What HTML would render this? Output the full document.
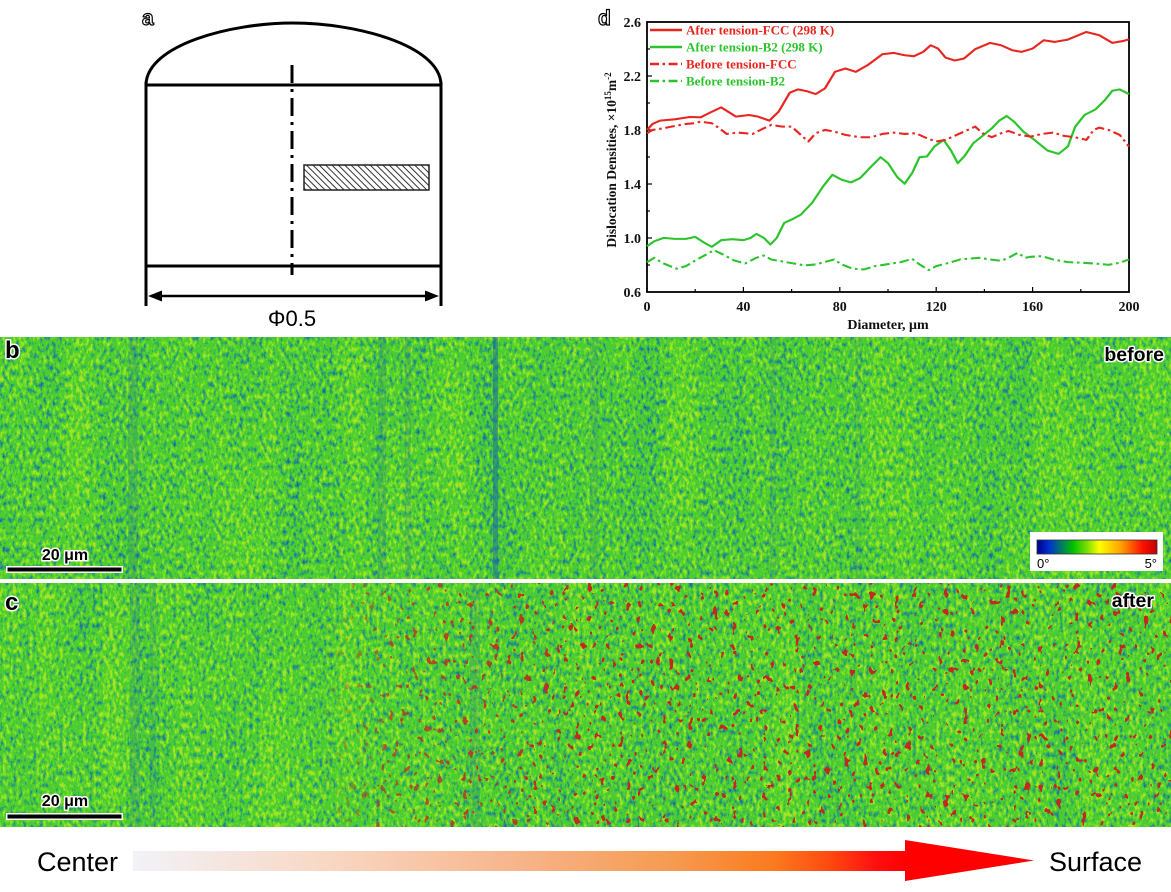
<!DOCTYPE html>
<html><head><meta charset="utf-8"><style>
html,body{margin:0;padding:0;background:#fff;}
svg{display:block;}
</style></head><body>
<svg width="1171" height="892" viewBox="0 0 1171 892" xmlns="http://www.w3.org/2000/svg">
<defs>
 <pattern id="hatch" width="4.5" height="4.5" patternUnits="userSpaceOnUse" patternTransform="rotate(-45)">
  <line x1="1" y1="0" x2="1" y2="4.5" stroke="#333" stroke-width="1"/>
 </pattern>
 <filter id="fb" x="0" y="0" width="1" height="1" filterUnits="objectBoundingBox" color-interpolation-filters="sRGB">
  <feTurbulence type="fractalNoise" baseFrequency="0.3 0.17" numOctaves="2" seed="7" result="t1"/>
  <feColorMatrix in="t1" type="matrix" values="1 0 0 0 0 1 0 0 0 0 1 0 0 0 0 0 0 0 0 1" result="g1"/>
  <feTurbulence type="fractalNoise" baseFrequency="0.03 0.003" numOctaves="2" seed="12" result="t2"/>
  <feColorMatrix in="t2" type="matrix" values="1 0 0 0 0 1 0 0 0 0 1 0 0 0 0 0 0 0 0 1" result="g2"/>
  <feComposite in="g1" in2="g2" operator="arithmetic" k1="0" k2="0.85" k3="0.2" k4="0.01" result="c"/>
  <feComponentTransfer in="c">
   <feFuncR type="discrete" tableValues="0.1 0.1 0.1 0.1 0.1 0.15 0.15 0.2 0.2 0.3 0.3 0.3 0.45 0.45 0.66 0.66 0.66 0.66 0.66 0.66"/>
   <feFuncG type="discrete" tableValues="0.38 0.38 0.38 0.38 0.38 0.52 0.52 0.66 0.66 0.8 0.8 0.8 0.87 0.87 0.89 0.89 0.89 0.89 0.89 0.89"/>
   <feFuncB type="discrete" tableValues="0.62 0.62 0.62 0.62 0.62 0.56 0.56 0.4 0.4 0.2 0.2 0.2 0.15 0.15 0.15 0.15 0.15 0.15 0.15 0.15"/>
   <feFuncA type="linear" slope="0" intercept="1"/>
  </feComponentTransfer>
 </filter>
 <filter id="fc" x="0" y="0" width="1" height="1" filterUnits="objectBoundingBox" color-interpolation-filters="sRGB">
  <feTurbulence type="fractalNoise" baseFrequency="0.3 0.17" numOctaves="2" seed="31" result="t1"/>
  <feColorMatrix in="t1" type="matrix" values="1 0 0 0 0 1 0 0 0 0 1 0 0 0 0 0 0 0 0 1" result="g1"/>
  <feTurbulence type="fractalNoise" baseFrequency="0.03 0.003" numOctaves="2" seed="44" result="t2"/>
  <feColorMatrix in="t2" type="matrix" values="1 0 0 0 0 1 0 0 0 0 1 0 0 0 0 0 0 0 0 1" result="g2"/>
  <feComposite in="g1" in2="g2" operator="arithmetic" k1="0" k2="0.85" k3="0.2" k4="0.02" result="c"/>
  <feComponentTransfer in="c">
   <feFuncR type="discrete" tableValues="0.1 0.1 0.1 0.1 0.1 0.15 0.15 0.2 0.2 0.3 0.3 0.3 0.45 0.45 0.66 0.66 0.66 0.66 0.66 0.66"/>
   <feFuncG type="discrete" tableValues="0.38 0.38 0.38 0.38 0.38 0.52 0.52 0.66 0.66 0.8 0.8 0.8 0.87 0.87 0.89 0.89 0.89 0.89 0.89 0.89"/>
   <feFuncB type="discrete" tableValues="0.62 0.62 0.62 0.62 0.62 0.56 0.56 0.4 0.4 0.2 0.2 0.2 0.15 0.15 0.15 0.15 0.15 0.15 0.15 0.15"/>
   <feFuncA type="linear" slope="0" intercept="1"/>
  </feComponentTransfer>
 </filter>
 <filter id="fr" x="0" y="0" width="1" height="1" filterUnits="objectBoundingBox" color-interpolation-filters="sRGB">
  <feTurbulence type="fractalNoise" baseFrequency="0.16 0.12" numOctaves="2" seed="21"/>
  <feColorMatrix type="matrix" values="0 0 0 0 0.76  0 0 0 0 0.16  0 0 0 0 0.12  1 0 0 0 0"/>
  <feComponentTransfer><feFuncA type="discrete" tableValues="0 0 0 0 0 0 0 0 0 0 0 0 0 0 0 0 0 1 1 1 1 1 1 1 1"/></feComponentTransfer>
 </filter>
 <linearGradient id="fadeg" gradientUnits="userSpaceOnUse" x1="0" y1="0" x2="1171" y2="0">
  <stop offset="0" stop-color="#fff" stop-opacity="0"/>
  <stop offset="0.27" stop-color="#fff" stop-opacity="0"/>
  <stop offset="0.33" stop-color="#fff" stop-opacity="0.7"/>
  <stop offset="0.5" stop-color="#fff" stop-opacity="1"/>
  <stop offset="1" stop-color="#fff" stop-opacity="1"/>
 </linearGradient>
 <mask id="fade" maskUnits="userSpaceOnUse" x="0" y="583" width="1171" height="244">
  <rect x="0" y="583" width="1171" height="244" fill="url(#fadeg)"/>
 </mask>
 <linearGradient id="cbar" x1="0" y1="0" x2="1" y2="0">
  <stop offset="0" stop-color="#00008c"/>
  <stop offset="0.1" stop-color="#0030d0"/>
  <stop offset="0.3" stop-color="#00c000"/>
  <stop offset="0.42" stop-color="#80e000"/>
  <stop offset="0.52" stop-color="#ffff00"/>
  <stop offset="0.7" stop-color="#ffa000"/>
  <stop offset="0.88" stop-color="#ff1000"/>
  <stop offset="1" stop-color="#c00000"/>
 </linearGradient>
 <linearGradient id="arr" x1="0" y1="0" x2="1" y2="0">
  <stop offset="0" stop-color="#f2f2f8"/>
  <stop offset="0.25" stop-color="#f8d8c4"/>
  <stop offset="0.5" stop-color="#f7b48a"/>
  <stop offset="0.7" stop-color="#f69a50"/>
  <stop offset="0.83" stop-color="#fb7a1e"/>
  <stop offset="0.9" stop-color="#ff4a10"/>
  <stop offset="0.96" stop-color="#ff1010"/>
  <stop offset="1" stop-color="#ff0000"/>
 </linearGradient>
</defs>

<rect width="1171" height="892" fill="#fff"/>

<!-- Panel a -->
<text x="142" y="25" font-family="Liberation Sans, sans-serif" font-size="21" font-weight="bold" fill="#fff" stroke="#000" stroke-width="1.2">a</text>
<g fill="none" stroke="#000" stroke-width="3">
 <path d="M146,84 C148,45 230,23 293,23 C356,23 439,45 441,84"/>
 <line x1="146" y1="85" x2="441" y2="85"/>
 <line x1="146" y1="266" x2="441" y2="266"/>
 <line x1="146" y1="82" x2="146" y2="306"/>
 <line x1="441" y1="82" x2="441" y2="306"/>
 <line x1="156" y1="296" x2="431" y2="296" stroke-width="2.5"/>
 <line x1="292" y1="65" x2="292" y2="275" stroke-dasharray="18,6,3,6"/>
</g>
<polygon points="148,296 162,290.5 162,301.5" fill="#000"/>
<polygon points="439,296 425,290.5 425,301.5" fill="#000"/>
<rect x="304" y="165" width="125" height="25" fill="url(#hatch)" stroke="#222" stroke-width="1.5"/>
<text x="292" y="326" text-anchor="middle" font-family="Liberation Sans, sans-serif" font-size="22" fill="#000">Φ0.5</text>

<!-- Panel d -->
<text x="598" y="25" font-family="Liberation Sans, sans-serif" font-size="21" font-weight="bold" fill="#fff" stroke="#000" stroke-width="1.2">d</text>
<g font-family="Liberation Serif, serif" font-weight="bold" font-size="14" fill="#111">
 <text x="641" y="27" text-anchor="end">2.6</text>
 <text x="641" y="81" text-anchor="end">2.2</text>
 <text x="641" y="135" text-anchor="end">1.8</text>
 <text x="641" y="189" text-anchor="end">1.4</text>
 <text x="641" y="243" text-anchor="end">1.0</text>
 <text x="641" y="297" text-anchor="end">0.6</text>
 <text x="647" y="311" text-anchor="middle">0</text>
 <text x="743.4" y="311" text-anchor="middle">40</text>
 <text x="839.8" y="311" text-anchor="middle">80</text>
 <text x="936.2" y="311" text-anchor="middle">120</text>
 <text x="1032.6" y="311" text-anchor="middle">160</text>
 <text x="1129" y="311" text-anchor="middle">200</text>
 <text x="888" y="329" text-anchor="middle">Diameter, μm</text>
 <text transform="translate(616,160) rotate(-90)" text-anchor="middle" font-size="13.5">Dislocation Densities, ×10<tspan dy="-5" font-size="9">15</tspan><tspan dy="5">m</tspan><tspan dy="-5" font-size="9">-2</tspan></text>
</g>
<g stroke="#000" stroke-width="1.2">
 <line x1="647" y1="287" x2="647" y2="292"/>
 <line x1="743.4" y1="287" x2="743.4" y2="292"/>
 <line x1="839.8" y1="287" x2="839.8" y2="292"/>
 <line x1="936.2" y1="287" x2="936.2" y2="292"/>
 <line x1="1032.6" y1="287" x2="1032.6" y2="292"/>
 <line x1="695.2" y1="289" x2="695.2" y2="292"/>
 <line x1="791.6" y1="289" x2="791.6" y2="292"/>
 <line x1="888" y1="289" x2="888" y2="292"/>
 <line x1="984.4" y1="289" x2="984.4" y2="292"/>
 <line x1="1080.8" y1="289" x2="1080.8" y2="292"/>
 <line x1="647" y1="76" x2="652" y2="76"/>
 <line x1="647" y1="130" x2="652" y2="130"/>
 <line x1="647" y1="184" x2="652" y2="184"/>
 <line x1="647" y1="238" x2="652" y2="238"/>
 <line x1="647" y1="49" x2="650" y2="49"/>
 <line x1="647" y1="103" x2="650" y2="103"/>
 <line x1="647" y1="157" x2="650" y2="157"/>
 <line x1="647" y1="211" x2="650" y2="211"/>
 <line x1="647" y1="265" x2="650" y2="265"/>
</g>
<rect x="647" y="22" width="482" height="270" fill="none" stroke="#000" stroke-width="1.8"/>

<g transform="translate(647,22) scale(0.37077,0.33210) translate(-155,-65)" fill="none" stroke-linejoin="round" stroke-linecap="butt" stroke-width="6.2">
 <polyline stroke="#e8251f" points="155,390 170,372 190,362 230,358 270,351 300,352 325,338 355,322 375,336 395,350 430,345 455,350 485,362 510,335 540,278 562,268 585,273 610,282 635,265 662,215 690,205 718,215 750,195 790,162 820,158 850,165 875,168 900,155 920,135 940,145 960,172 985,181 1010,175 1040,147 1080,128 1110,135 1140,150 1165,155 1195,145 1225,120 1255,125 1290,118 1340,95 1375,105 1410,128 1440,122 1455,117"/>
 <polyline stroke="#2cc42c" points="155,740 175,725 200,715 230,718 260,718 285,712 310,730 330,742 355,722 385,719 415,722 435,715 450,703 470,715 488,735 505,715 525,670 545,660 570,645 600,610 630,560 655,525 680,540 705,548 730,535 760,500 785,472 805,490 830,532 850,552 870,520 890,472 910,470 930,440 955,420 975,452 993,490 1012,468 1035,430 1060,408 1085,385 1105,362 1125,348 1145,365 1170,395 1200,420 1235,452 1265,462 1290,440 1310,380 1335,345 1365,328 1390,300 1410,272 1430,268 1455,282"/>
 <polyline stroke="#e8251f" stroke-dasharray="26,10,7,10" points="155,400 170,390 200,385 230,378 260,372 280,370 300,365 330,370 350,385 370,402 400,398 440,402 470,385 490,375 520,380 545,380 565,400 590,425 610,400 635,390 660,395 690,405 730,412 760,412 790,402 820,398 850,402 880,400 910,415 935,425 960,420 990,405 1020,390 1040,380 1060,400 1085,412 1110,400 1130,393 1160,405 1190,410 1220,402 1250,398 1280,408 1310,412 1340,420 1360,390 1375,383 1400,390 1430,405 1455,440"/>
 <polyline stroke="#2cc42c" stroke-dasharray="26,10,7,10" points="155,788 175,775 195,790 235,808 260,800 290,780 320,762 335,752 360,765 390,783 420,792 450,775 470,768 490,780 530,788 580,798 610,795 660,780 680,795 710,808 740,810 770,800 800,795 840,788 870,778 890,795 915,812 935,800 970,790 1000,780 1050,775 1080,780 1110,784 1130,775 1155,760 1175,775 1190,772 1220,770 1250,780 1290,788 1330,790 1370,793 1400,796 1430,790 1455,780"/>
</g>

<g stroke-width="2.4">
 <line x1="650" y1="30" x2="682" y2="30" stroke="#e8251f"/>
 <line x1="650" y1="47" x2="682" y2="47" stroke="#2cc42c"/>
 <line x1="650" y1="64" x2="682" y2="64" stroke="#e8251f" stroke-dasharray="9,3.5,2.5,3.5"/>
 <line x1="650" y1="81" x2="682" y2="81" stroke="#2cc42c" stroke-dasharray="9,3.5,2.5,3.5"/>
</g>
<g font-family="Liberation Serif, serif" font-weight="bold" font-size="13">
 <text x="686" y="34.5" fill="#e8251f">After tension-FCC (298 K)</text>
 <text x="686" y="51.5" fill="#2cc42c">After tension-B2 (298 K)</text>
 <text x="686" y="68.5" fill="#e8251f">Before tension-FCC</text>
 <text x="686" y="85.5" fill="#2cc42c">Before tension-B2</text>
</g>

<!-- Map b -->
<rect x="0" y="337" width="1171" height="242" fill="#50be3c" filter="url(#fb)"/>
<g fill="#1d6f9a">
 <rect x="128" y="337" width="10" height="242" opacity="0.2"/>
 <rect x="378" y="337" width="8" height="242" opacity="0.2"/>
 <rect x="405" y="337" width="6" height="242" opacity="0.2"/>
 <rect x="493" y="337" width="5" height="242" opacity="0.55"/>
 <rect x="590" y="337" width="8" height="242" opacity="0.16"/>
 <rect x="770" y="337" width="6" height="242" opacity="0.16"/>
 <rect x="855" y="337" width="6" height="242" opacity="0.14"/>
</g>
<!-- Map c -->
<rect x="0" y="583" width="1171" height="244" fill="#50be3c" filter="url(#fc)"/>
<g fill="#1d6f9a">
 <rect x="130" y="583" width="10" height="244" opacity="0.18"/>
 <rect x="150" y="583" width="6" height="244" opacity="0.16"/>
 <rect x="470" y="583" width="10" height="244" opacity="0.18"/>
</g>
<rect x="0" y="583" width="1171" height="244" filter="url(#fr)" mask="url(#fade)"/>

<!-- map labels -->
<g font-family="Liberation Sans, sans-serif" font-weight="bold" fill="#000" stroke="#fff" stroke-width="3" paint-order="stroke" stroke-linejoin="round">
 <text x="5" y="358" font-size="24">b</text>
 <text x="5" y="610" font-size="24">c</text>
 <text x="1164" y="361" font-size="19.5" text-anchor="end">before</text>
 <text x="1154" y="607" font-size="19.5" text-anchor="end">after</text>
 <text x="65" y="560" font-size="16" text-anchor="middle">20 μm</text>
 <text x="65" y="806" font-size="16" text-anchor="middle">20 μm</text>
</g>
<rect x="6" y="566" width="117" height="7" fill="#fff"/>
<rect x="7.5" y="567.5" width="114" height="4" fill="#000"/>
<rect x="6" y="813" width="117" height="7" fill="#fff"/>
<rect x="7.5" y="814.5" width="114" height="4" fill="#000"/>

<!-- color bar -->
<rect x="1030" y="532" width="133" height="39" fill="#fff"/>
<rect x="1037" y="540" width="120" height="14" fill="url(#cbar)" stroke="#333" stroke-width="0.8"/>
<g font-family="Liberation Sans, sans-serif" font-size="13" fill="#000">
 <text x="1037" y="568">0°</text>
 <text x="1157" y="568" text-anchor="end">5°</text>
</g>

<!-- separator -->
<rect x="0" y="579" width="1171" height="4" fill="#fff"/>

<!-- bottom arrow -->
<rect x="133" y="851" width="773" height="20" fill="url(#arr)"/>
<polygon points="905,840 1034,860.5 905,881" fill="#ff0000"/>
<g font-family="Liberation Sans, sans-serif" font-size="27" fill="#000">
 <text x="37" y="871">Center</text>
 <text x="1049" y="871">Surface</text>
</g>
</svg>
</body></html>
